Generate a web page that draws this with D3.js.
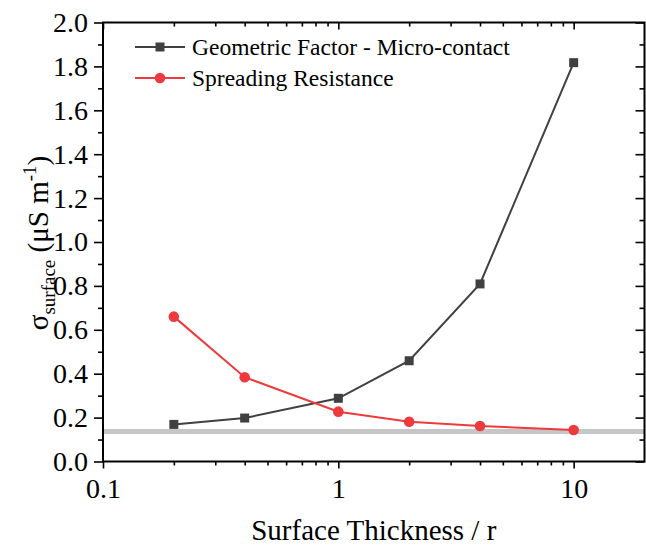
<!DOCTYPE html>
<html>
<head>
<meta charset="utf-8">
<script src="https://cdn.jsdelivr.net/npm/d3@7"></script>
</head>
<body style="margin:0;background:#fff">
<script>
// ---- data ----
const thickness = [0.2, 0.4, 1, 2, 4, 10];
const geometricFactor = [0.169, 0.198, 0.288, 0.459, 0.809, 1.817];
const spreadingResistance = [0.660, 0.384, 0.227, 0.181, 0.162, 0.1435];
const referenceLevel = 0.137;
const seriesNames = ["Geometric Factor - Micro-contact", "Spreading Resistance"];
const xTickValues = [0.1, 1, 10];
const xTickLabels = ["0.1", "1", "10"];
const yTickValues = [0, 0.2, 0.4, 0.6, 0.8, 1.0, 1.2, 1.4, 1.6, 1.8, 2.0];

(function () {
// ---- layout ----
const W = 646, H = 547;
const pL = 103, pR = 644.5, pT = 22.5, pB = 461.5;
const darkColor = "#404040", redColor = "#ee3a3c", grayColor = "#c6c6c6";

const svg = d3.select("body").append("svg").attr("width", W).attr("height", H)
  .style("display", "block").attr("font-family", "Liberation Serif");
svg.append("rect").attr("width", W).attr("height", H).attr("fill", "#fff");

const x = d3.scaleLog().domain([0.1, 20]).range([pL, pR]);
const y = d3.scaleLinear().domain([0, 2]).range([pB, pT]);

// minor tick values
const xMinor = [];
[0.1, 1, 10].forEach(d => { for (let k = 2; k <= 9; k++) { const v = d * k; if (v < 20) xMinor.push(v); } });
const yMinor = d3.range(0.1, 2.0, 0.2).map(v => +v.toFixed(1));

// reference gray line
svg.append("line")
  .attr("x1", x(0.1) + 1).attr("x2", x(20))
  .attr("y1", y(referenceLevel)).attr("y2", y(referenceLevel))
  .attr("stroke", grayColor).attr("stroke-width", 5);

function styleAxis(g, fontSize) {
  g.attr("font-family", "Liberation Serif").attr("font-size", fontSize);
  g.select(".domain").remove();
  g.selectAll(".tick line").attr("stroke", "#000").attr("stroke-width", 1.6);
  g.selectAll(".tick text").attr("fill", "#000");
}

// bottom axis
const gB = svg.append("g").attr("transform", `translate(0,${pB})`)
  .call(d3.axisBottom(x).tickValues(xTickValues).tickSize(7).tickPadding(10)
    .tickFormat((d, i) => xTickLabels[i]));
styleAxis(gB, 28);
const gBm = svg.append("g").attr("transform", `translate(0,${pB})`)
  .call(d3.axisBottom(x).tickValues(xMinor).tickSize(4).tickFormat(""));
styleAxis(gBm, 10);

// top axis (ticks inward)
const gT = svg.append("g").attr("transform", `translate(0,${pT})`)
  .call(d3.axisBottom(x).tickValues(xTickValues).tickSize(7).tickFormat(""));
styleAxis(gT, 10);
const gTm = svg.append("g").attr("transform", `translate(0,${pT})`)
  .call(d3.axisBottom(x).tickValues(xMinor).tickSize(4).tickFormat(""));
styleAxis(gTm, 10);

// left axis
const gL = svg.append("g").attr("transform", `translate(${pL},0)`)
  .call(d3.axisLeft(y).tickValues(yTickValues).tickSize(9).tickPadding(6)
    .tickFormat(d3.format(".1f")));
styleAxis(gL, 28);
const gLm = svg.append("g").attr("transform", `translate(${pL},0)`)
  .call(d3.axisLeft(y).tickValues(yMinor).tickSize(5).tickFormat(""));
styleAxis(gLm, 10);

// right axis (ticks inward)
const gR = svg.append("g").attr("transform", `translate(${pR},0)`)
  .call(d3.axisLeft(y).tickValues(yTickValues).tickSize(9).tickFormat(""));
styleAxis(gR, 10);
const gRm = svg.append("g").attr("transform", `translate(${pR},0)`)
  .call(d3.axisLeft(y).tickValues(yMinor).tickSize(5).tickFormat(""));
styleAxis(gRm, 10);

// frame
svg.append("rect")
  .attr("x", pL).attr("y", pT).attr("width", pR - pL).attr("height", pB - pT)
  .attr("fill", "none").attr("stroke", "#000").attr("stroke-width", 2);

// series lines
const line = d3.line().x(d => x(d[0])).y(d => y(d[1]));
const geoData = thickness.map((t, i) => [t, geometricFactor[i]]);
const sprData = thickness.map((t, i) => [t, spreadingResistance[i]]);

svg.append("path").datum(geoData).attr("d", line)
  .attr("fill", "none").attr("stroke", darkColor).attr("stroke-width", 2);
svg.append("path").datum(sprData).attr("d", line)
  .attr("fill", "none").attr("stroke", redColor).attr("stroke-width", 2);

const sq = 9;
svg.selectAll("rect.geo").data(geoData).enter().append("rect").attr("class", "geo")
  .attr("x", d => x(d[0]) - sq / 2).attr("y", d => y(d[1]) - sq / 2)
  .attr("width", sq).attr("height", sq).attr("fill", darkColor);
svg.selectAll("circle.spr").data(sprData).enter().append("circle").attr("class", "spr")
  .attr("cx", d => x(d[0])).attr("cy", d => y(d[1])).attr("r", 5.3).attr("fill", redColor);

// legend
const legY = [47, 78];
const lg = svg.append("g");
lg.append("line").attr("x1", 135).attr("x2", 185).attr("y1", legY[0]).attr("y2", legY[0])
  .attr("stroke", darkColor).attr("stroke-width", 2);
lg.append("rect").attr("x", 160 - sq / 2).attr("y", legY[0] - sq / 2).attr("width", sq).attr("height", sq).attr("fill", darkColor);
lg.append("line").attr("x1", 135).attr("x2", 185).attr("y1", legY[1]).attr("y2", legY[1])
  .attr("stroke", redColor).attr("stroke-width", 2);
lg.append("circle").attr("cx", 160).attr("cy", legY[1]).attr("r", 5.3).attr("fill", redColor);
seriesNames.forEach((n, i) => {
  lg.append("text").attr("x", 192).attr("y", legY[i] + 8).attr("font-size", 23.5).text(n);
});

// x title
svg.append("text").attr("x", (pL + pR) / 2).attr("y", 540).attr("text-anchor", "middle")
  .attr("font-size", 29).text("Surface Thickness / r");

// y title
const yt = svg.append("text").attr("transform", "translate(48,243) rotate(-90)")
  .attr("text-anchor", "middle").attr("font-size", 29);
yt.append("tspan").text("σ");
yt.append("tspan").attr("font-size", 19).attr("dy", 7).text("surface");
yt.append("tspan").attr("dy", -7).text(" (μS m");
yt.append("tspan").attr("font-size", 19).attr("dy", -12).text("-1");
yt.append("tspan").attr("dy", 12).text(")");

svg.selectAll("text").attr("font-family", "Liberation Serif")
  .style("font-family", '"Liberation Serif"').attr("fill", "#000");
})();
</script>
</body>
</html>
